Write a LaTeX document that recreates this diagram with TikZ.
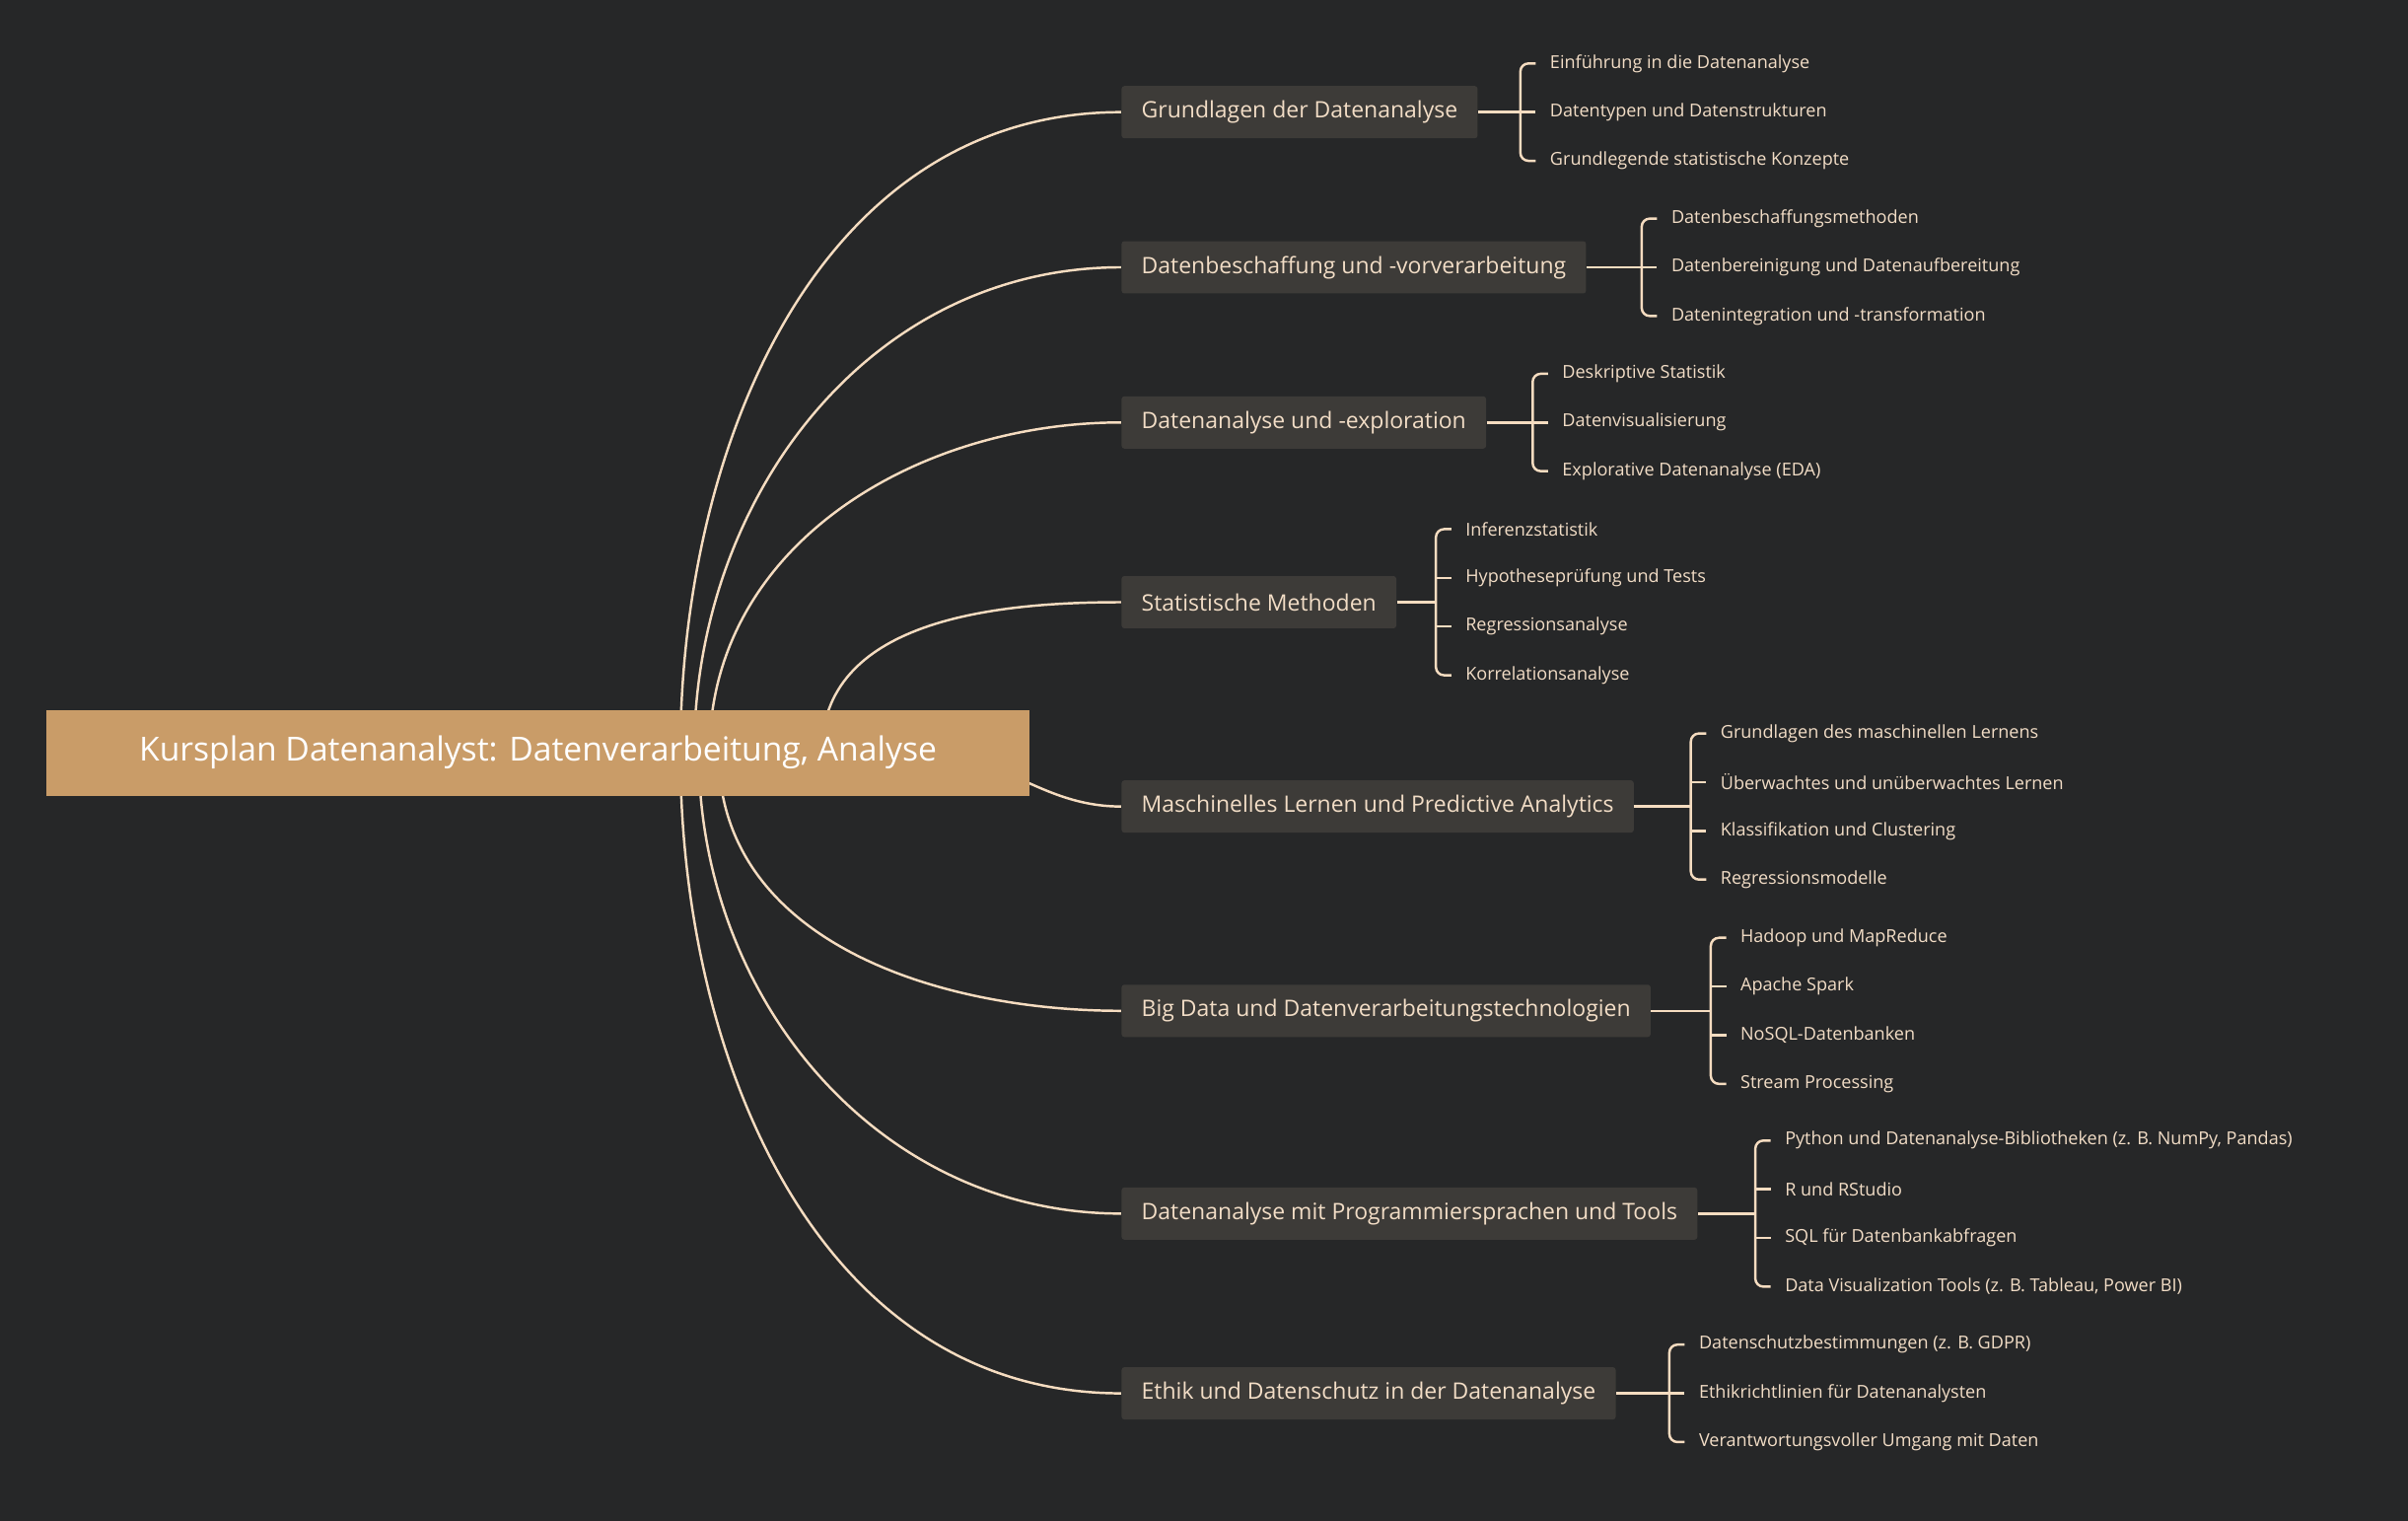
\documentclass[tikz,border=0pt]{standalone}
\usepackage{fontspec}
\setmainfont{Open Sans}
\begin{document}
\begin{tikzpicture}[x=0.02cm,y=-0.02cm,
  conn/.style={draw=linec,line width=0.9pt},
  rootbox/.style={fill=rootc,text=white,font=\fontsize{12.3}{14}\selectfont,minimum height=1.12cm,inner xsep=0.48cm,anchor=west},
  branchbox/.style={fill=boxc,text=txtc,font=\fontsize{8.4}{10}\selectfont,minimum height=0.68cm,inner xsep=0.26cm,anchor=west,rounded corners=1pt},
  leaf/.style={text=txtc,font=\fontsize{6.6}{8}\selectfont,anchor=west,inner sep=0pt}]
\definecolor{bgc}{HTML}{262728}
\definecolor{rootc}{HTML}{C99C68}
\definecolor{boxc}{HTML}{3D3B38}
\definecolor{txtc}{HTML}{F2DDC6}
\definecolor{linec}{HTML}{F5DCC0}
\fill[bgc] (0,0) rectangle (1568,990);
\useasboundingbox (0,0) rectangle (1568,990);
\foreach \i/\cy/\sx/\lx/\nl/\lab/\leaves in {
 1/73/443/1009/3/{Grundlagen der Datenanalyse}/{Einführung in die Datenanalyse,Datentypen und Datenstrukturen,Grundlegende statistische Konzepte},
 2/174/452/1088/3/{Datenbeschaffung und -vorverarbeitung}/{Datenbeschaffungsmethoden,Datenbereinigung und Datenaufbereitung,Datenintegration und -transformation},
 3/275/462/1017/3/{Datenanalyse und -exploration}/{Deskriptive Statistik,Datenvisualisierung,Explorative Datenanalyse (EDA)},
 4/392/535/954/4/{Statistische Methoden}/{Inferenzstatistik,Hypotheseprüfung und Tests,Regressionsanalyse,Korrelationsanalyse},
 5/525/600/1120/4/{Maschinelles Lernen und Predictive Analytics}/{Grundlagen des maschinellen Lernens,Überwachtes und unüberwachtes Lernen,Klassifikation und Clustering,Regressionsmodelle},
 6/658/468/1133/4/{Big Data und Datenverarbeitungstechnologien}/{Hadoop und MapReduce,Apache Spark,NoSQL-Datenbanken,Stream Processing},
 7/790/455/1162/4/{Datenanalyse mit Programmiersprachen und Tools}/{Python und Datenanalyse-Bibliotheken (z. B. NumPy{,} Pandas),R und RStudio,SQL für Datenbankabfragen,Data Visualization Tools (z. B. Tableau{,} Power BI)},
 8/907/443/1106/3/{Ethik und Datenschutz in der Datenanalyse}/{Datenschutzbestimmungen (z. B. GDPR),Ethikrichtlinien für Datenanalysten,Verantwortungsvoller Umgang mit Daten}}{
  \node[branchbox] (b\i) at (730,\cy) {\lab};
  \coordinate (s\i) at (\sx,490);
  \ifnum\i=5
    \draw[conn] (s\i) to[out=0,in=180] (b\i.west);
  \else
    \ifnum\i<5 \draw[conn] (s\i) to[out=90,in=180] (b\i.west);
    \else \draw[conn] (s\i) to[out=-90,in=180] (b\i.west); \fi
  \fi
  \pgfmathsetmacro{\bx}{\lx-19}
  \pgfmathsetmacro{\bxa}{\lx-9}
  \pgfmathsetmacro{\tp}{\cy-(\nl-1)*31.7/2}
  \pgfmathsetmacro{\bt}{\cy+(\nl-1)*31.7/2}
  \coordinate (k\i) at (\bx,\cy);
  \draw[conn] (b\i.east) -- (k\i);
  \foreach \t [count=\j] in \leaves {
    \pgfmathsetmacro{\ly}{\tp+(\j-1)*31.7}
    \node[leaf] (l\i-\j) at (\lx,\ly) {\t};
  }
  \draw[conn,rounded corners=3pt] (\bxa,\tp) -- (\bx,\tp) -- (\bx,\bt) -- (\bxa,\bt);
  \foreach \j in {2,...,\nl} {
    \ifnum\j<\nl \draw[conn] (k\i|-l\i-\j.west) -- ++(10,0); \fi
  }
}
\node[rootbox,minimum width=12.8cm] (root) at (30,490) {Kursplan Datenanalyst: Datenverarbeitung, Analyse};
\end{tikzpicture}
\end{document}
